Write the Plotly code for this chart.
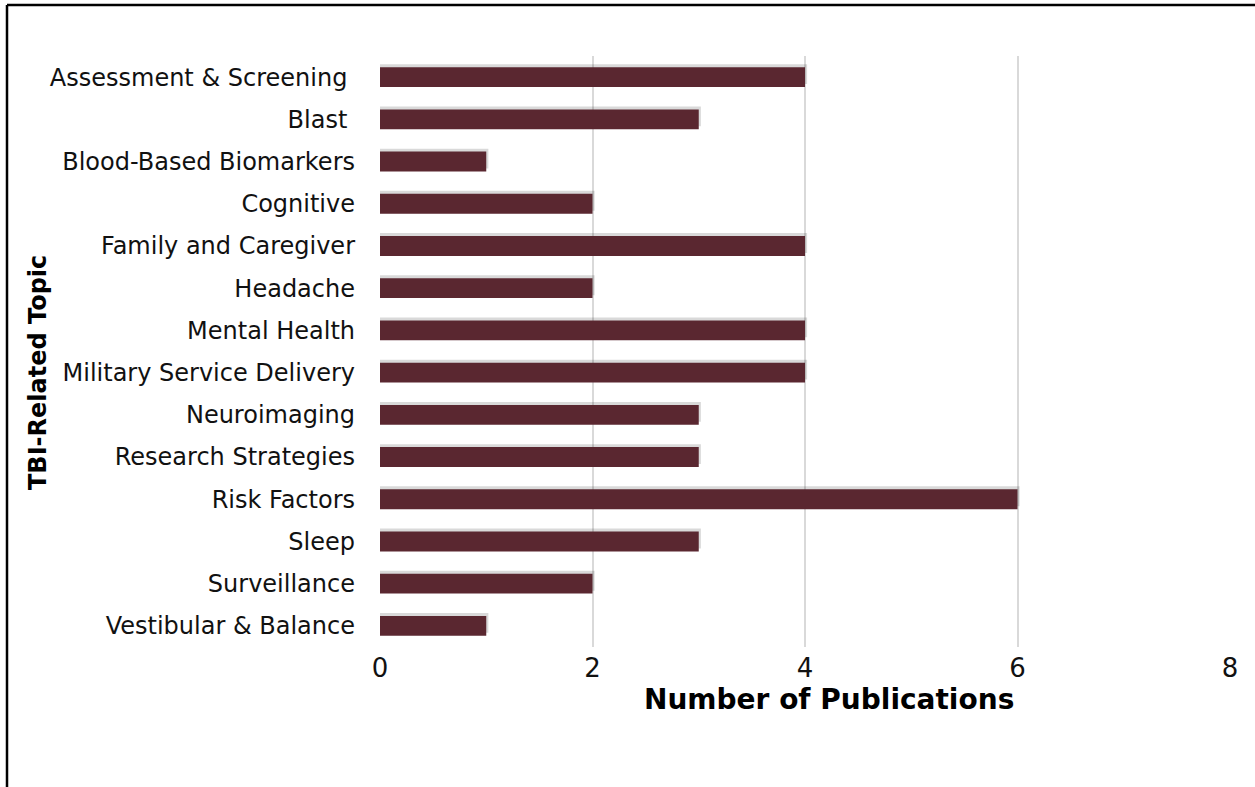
import plotly.graph_objects as go

topics = [
    "Assessment & Screening\u00a0",
    "Blast\u00a0",
    "Blood-Based Biomarkers",
    "Cognitive",
    "Family and Caregiver",
    "Headache",
    "Mental Health",
    "Military Service Delivery",
    "Neuroimaging",
    "Research Strategies",
    "Risk Factors",
    "Sleep",
    "Surveillance",
    "Vestibular & Balance",
]
publications = [4, 3, 1, 2, 4, 2, 4, 4, 3, 3, 6, 3, 2, 1]

BAR_COLOR = "#5a2730"
FONT = "'DejaVu Sans', sans-serif"
BAR_W = 0.47

fig = go.Figure()

# soft drop shadow under each bar
fig.add_trace(go.Bar(
    x=[v + 0.02 for v in publications],
    y=topics,
    orientation="h",
    width=BAR_W,
    offset=-BAR_W / 2 - 0.07,
    marker=dict(color="rgba(0,0,0,0.15)", line=dict(width=0)),
    hoverinfo="skip",
    showlegend=False,
))

fig.add_trace(go.Bar(
    x=publications,
    y=topics,
    orientation="h",
    width=BAR_W,
    offset=-BAR_W / 2,
    marker=dict(color=BAR_COLOR, line=dict(width=0)),
    showlegend=False,
))

fig.update_layout(
    width=1255,
    height=787,
    margin=dict(l=380, r=25, t=56, b=140),
    paper_bgcolor="white",
    plot_bgcolor="white",
    barmode="overlay",
    font=dict(family=FONT, color="#111111"),
    xaxis=dict(
        range=[0, 8],
        dtick=2,
        showgrid=True,
        gridcolor="#d9d9d9",
        gridwidth=2,
        zeroline=False,
        showline=False,
        ticks="",
        tickfont=dict(size=26, family=FONT),
        ticklabelstandoff=3,
    ),
    yaxis=dict(
        autorange="reversed",
        categoryorder="array",
        categoryarray=topics,
        showgrid=False,
        zeroline=False,
        showline=False,
        ticks="",
        tickfont=dict(size=24, family=FONT),
        ticklabelstandoff=24,
    ),
    annotations=[
        dict(
            text="<b>Number of Publications</b>",
            xref="paper", yref="paper",
            x=(829 - 380) / 850, y=-(699 - 647) / 591,
            xanchor="center", yanchor="middle",
            showarrow=False,
            font=dict(size=28, family=FONT, color="#000000"),
        ),
        dict(
            text="<b>TBI-Related Topic</b>",
            xref="paper", yref="paper",
            x=(38 - 380) / 850, y=(647 - 373) / 591,
            xanchor="center", yanchor="middle",
            textangle=-90,
            showarrow=False,
            font=dict(size=24, family=FONT, color="#000000"),
        ),
    ],
    shapes=[
        # outer frame (left and top edges)
        dict(type="line", xref="paper", yref="paper",
             x0=(7 - 380) / 850, x1=(7 - 380) / 850,
             y0=(647 - 5) / 591, y1=(647 - 800) / 591,
             line=dict(color="black", width=2.5)),
        dict(type="line", xref="paper", yref="paper",
             x0=(7 - 380) / 850, x1=(1270 - 380) / 850,
             y0=(647 - 5) / 591, y1=(647 - 5) / 591,
             line=dict(color="black", width=2.5)),
    ],
)

fig.write_html("out.html")
